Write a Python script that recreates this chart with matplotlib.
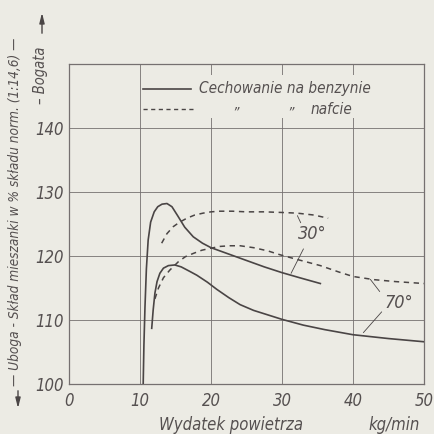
import matplotlib.pyplot as plt

# wydatek powietrza [kg/min] -> sklad mieszanki [% skladu norm.]
benz_30_x = [10.45, 10.55, 10.7, 10.9, 11.15, 11.5, 12.0, 12.5, 13.1, 13.8, 14.5, 15.3, 16.3,
             17.5, 18.8, 20.0, 21.5, 23.0, 25.0, 27.5, 30.0, 32.5, 35.4]
benz_30_y = [100, 106, 112, 118, 122.5, 125.3, 126.9, 127.7, 128.1, 128.2, 127.7, 126.3, 124.5,
             123.0, 122.0, 121.3, 120.7, 120.1, 119.3, 118.3, 117.4, 116.6, 115.7]

benz_70_x = [11.65, 11.85, 12.1, 12.4, 12.8, 13.3, 14.0, 14.9, 15.8, 17.0, 18.0, 19.5, 20.8,
             22.5, 24.1, 26.0, 28.0, 30.0, 33.0, 36.0, 40.0, 45.0, 50.0]
benz_70_y = [108.7, 111.5, 114.2, 116.0, 117.3, 118.1, 118.5, 118.6, 118.3, 117.6, 117.0, 115.9, 114.8,
             113.5, 112.4, 111.5, 110.8, 110.1, 109.2, 108.5, 107.7, 107.1, 106.6]

naft_30_x = [13.05, 13.8, 14.7, 15.6, 16.6, 17.7, 18.9, 20.0, 21.3, 23.0, 25.0, 27.5, 30.0,
             32.1, 34.5, 36.5]
naft_30_y = [122.0, 123.5, 124.6, 125.3, 125.9, 126.4, 126.7, 126.9, 127.0, 127.0, 126.9, 126.9, 126.8,
             126.7, 126.4, 125.9]

naft_70_x = [12.1, 12.6, 13.3, 14.2, 15.4, 16.4, 17.5, 18.7, 19.9, 21.3, 22.7, 24.1, 26.0, 28.0,
             29.7, 32.0, 35.4, 38.0, 40.0, 43.0, 46.0, 50.0]
naft_70_y = [113.3, 115.0, 116.6, 117.8, 119.1, 119.9, 120.4, 120.9, 121.2, 121.5, 121.6, 121.6, 121.3, 120.8,
             120.2, 119.5, 118.5, 117.5, 116.8, 116.3, 116.0, 115.7]

x_ticks = [0, 10, 20, 30, 40, 50]
y_ticks = [100, 110, 120, 130, 140]

bg = '#ecebe4'
ink = '#4a4545'
grid_c = '#757070'
fnt = dict(family='DejaVu Sans', style='italic', fontstretch='condensed', color='#555050')

fig = plt.figure(figsize=(4.34, 4.34), dpi=100, facecolor=bg)
ax = fig.add_axes([69 / 434, 50 / 434, 355 / 434, 320 / 434], facecolor=bg)
ax.set_xlim(0, 50)
ax.set_ylim(100, 150)

# siatka
for xv in x_ticks[1:-1]:
    ax.axvline(xv, color=grid_c, lw=0.6, zorder=1)
for yv in y_ticks[1:]:
    ax.axhline(yv, color=grid_c, lw=0.6, zorder=1)
# miejsce na legende (przerwana siatka)
ax.add_patch(plt.Rectangle((10.6, 141.6), 34, 6.7, facecolor=bg, edgecolor='none', zorder=2))

for s in ax.spines.values():
    s.set_color(grid_c)
    s.set_linewidth(0.9)

# krzywe
ax.plot(benz_30_x, benz_30_y, color=ink, lw=1.2, zorder=3)
ax.plot(benz_70_x, benz_70_y, color=ink, lw=1.2, zorder=3)
ax.plot(naft_30_x, naft_30_y, color=ink, lw=1.1, ls=(0, (3.5, 3)), zorder=3)
ax.plot(naft_70_x, naft_70_y, color=ink, lw=1.1, ls=(0, (3.5, 3)), zorder=3)

ax.set_xticks(x_ticks)
ax.set_yticks(y_ticks)
ax.set_xticklabels([str(v) for v in x_ticks], fontsize=12, **fnt)
ax.set_yticklabels([str(v) for v in y_ticks], fontsize=12, **fnt)
ax.tick_params(length=0, pad=4)
ax.tick_params(axis='x', pad=6)

# legenda
ax.plot([0.208, 0.344], [0.922, 0.922], transform=ax.transAxes, color=ink, lw=1.2, zorder=4)
ax.plot([0.208, 0.352], [0.859, 0.859], transform=ax.transAxes, color=ink, lw=1.0,
        ls=(0, (3, 2.5)), zorder=4)
ax.text(0.366, 0.922, 'Cechowanie na benzynie', transform=ax.transAxes, fontsize=11,
        va='center', ha='left', zorder=4, **fnt)
ax.text(0.47, 0.85, '”', transform=ax.transAxes, fontsize=10, va='center', ha='center', zorder=4, **fnt)
ax.text(0.625, 0.85, '”', transform=ax.transAxes, fontsize=10, va='center', ha='center', zorder=4, **fnt)
ax.text(0.68, 0.859, 'nafcie', transform=ax.transAxes, fontsize=11,
        va='center', ha='left', zorder=4, **fnt)

# opisy katow
lead = dict(arrowstyle='-', color=ink, lw=0.6)
ax.text(34.2, 123.5, '30°', fontsize=13, ha='center', va='center', zorder=4, **fnt)
ax.annotate('', xy=(32.0, 126.7), xytext=(32.8, 124.8), arrowprops=lead)
ax.annotate('', xy=(31.1, 116.9), xytext=(33.2, 121.5), arrowprops=lead)
ax.text(46.4, 112.6, '70°', fontsize=13, ha='center', va='center', zorder=4, **fnt)
ax.annotate('', xy=(42.2, 116.7), xytext=(44.0, 114.1), arrowprops=lead)
ax.annotate('', xy=(41.2, 107.7), xytext=(44.3, 111.6), arrowprops=lead)

# opis osi
fig.text(231 / 434, 9 / 434, 'Wydatek powietrza', fontsize=12, ha='center', va='center', **fnt)
fig.text(394 / 434, 9 / 434, 'kg/min', fontsize=12, ha='center', va='center', **fnt)

fig.text(15 / 434, 1 - 212 / 434, '— Uboga - Skład mieszanki w % składu norm. (1:14,6) —',
         fontsize=9.8, rotation=90, ha='center', va='center', **fnt)
fig.text(40 / 434, 1 - 75 / 434, '– Bogata', fontsize=10.5, rotation=90, ha='center', va='center', **fnt)
arr = dict(arrowstyle='-|>,head_length=0.6,head_width=0.15', color=ink, lw=1.0)
ax.annotate('', xy=(18 / 434, 1 - 411 / 434), xytext=(18 / 434, 1 - 388 / 434),
            xycoords='figure fraction', textcoords='figure fraction', arrowprops=arr)
ax.annotate('', xy=(42 / 434, 1 - 10 / 434), xytext=(42 / 434, 1 - 36 / 434),
            xycoords='figure fraction', textcoords='figure fraction', arrowprops=arr)

fig.savefig('out.png', dpi=100, facecolor=bg)
